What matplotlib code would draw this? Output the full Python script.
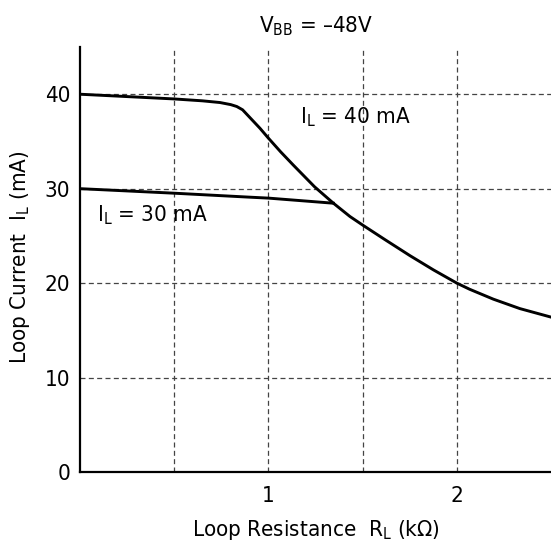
import matplotlib
matplotlib.use("Agg")
import matplotlib.pyplot as plt
from matplotlib import font_manager

# ---- data ----
r40 = [0.0, 0.24, 0.5, 0.65, 0.743, 0.8, 0.832, 0.863, 0.955, 1.0, 1.065, 1.132, 1.245,
       1.345, 1.433, 1.5, 1.619, 1.752, 1.876, 2.0, 2.068, 2.194, 2.335, 2.5]
i40 = [40.0, 39.76, 39.5, 39.3, 39.12, 38.9, 38.7, 38.35, 36.4, 35.35, 33.9, 32.5, 30.2,
       28.46, 27.05, 26.15, 24.6, 22.9, 21.4, 20.0, 19.35, 18.3, 17.3, 16.4]

r30 = [0.0, 0.5, 0.9, 1.0, 1.345]
i30 = [30.0, 29.52, 29.1, 29.0, 28.46]

x_ticks = [1, 2]
x_tick_labels = ["1", "2"]
y_ticks = [0, 10, 20, 30, 40]
y_tick_labels = ["0", "10", "20", "30", "40"]
x_grid = [0.5, 1.0, 1.5, 2.0]
y_grid = [10, 20, 30, 40]

title_text = r"V$_\mathregular{BB}$ = –48V"
xlabel_text = r"Loop Resistance  R$_\mathregular{L}$ (kΩ)"
ylabel_text = r"Loop Current  I$_\mathregular{L}$ (mA)"
label40 = r"I$_\mathregular{L}$ = 40 mA"
label30 = r"I$_\mathregular{L}$ = 30 mA"

# ---- fonts ----
names = {f.name for f in font_manager.fontManager.ttflist}
if "Liberation Sans Narrow" in names:
    main_font = "Liberation Sans Narrow"
    plt.rcParams["font.stretch"] = "normal"
else:
    main_font = "DejaVu Sans"
    plt.rcParams["font.stretch"] = "condensed"
plt.rcParams["font.family"] = [main_font, "DejaVu Sans"]
plt.rcParams["mathtext.fontset"] = "custom"
plt.rcParams["mathtext.rm"] = main_font
plt.rcParams["mathtext.it"] = main_font
plt.rcParams["mathtext.bf"] = main_font
plt.rcParams["lines.scale_dashes"] = False

FS = 16
W, H = 551, 543
fig = plt.figure(figsize=(W / 100, H / 100), dpi=100)
left_px, bottom_px, top_px, right_px = 80, 472, 47, 551
ax = fig.add_axes([left_px / W, (H - bottom_px) / H,
                   (right_px - left_px) / W, (bottom_px - top_px) / H])

ax.set_xlim(0, 2.5)
ax.set_ylim(0, 45)

for xv in x_grid:
    ax.axvline(xv, color="#444444", lw=0.9, dashes=(3.6, 2.4), zorder=1)
for yv in y_grid:
    ax.axhline(yv, color="#444444", lw=0.9, dashes=(3.6, 2.4), zorder=1)

ax.plot(r40, i40, color="black", lw=2.1, solid_joinstyle="round", zorder=3)
ax.plot(r30, i30, color="black", lw=2.1, solid_joinstyle="round", zorder=3)

ax.text(1.168, 36.94, label40, fontsize=FS, ha="left", va="baseline")
ax.text(0.09, 26.5, label30, fontsize=FS, ha="left", va="baseline")

ax.set_xticks(x_ticks)
ax.set_xticklabels(x_tick_labels)
ax.set_yticks(y_ticks)
ax.set_yticklabels(y_tick_labels)
ax.tick_params(axis="both", length=0, labelsize=FS)
ax.tick_params(axis="x", pad=10)
ax.tick_params(axis="y", pad=7)

for s in ["top", "right"]:
    ax.spines[s].set_visible(False)
for s in ["left", "bottom"]:
    ax.spines[s].set_linewidth(1.6)
    ax.spines[s].set_color("black")

fig.text(316 / W, 1 - 32 / H, title_text, fontsize=FS, ha="center", va="baseline")
fig.text(316 / W, 1 - 536 / H, xlabel_text, fontsize=FS, ha="center", va="baseline")
fig.text(20 / W, 1 - 257 / H, ylabel_text, fontsize=FS, ha="center", va="center", rotation=90)

fig.savefig("out.png", dpi=100)
